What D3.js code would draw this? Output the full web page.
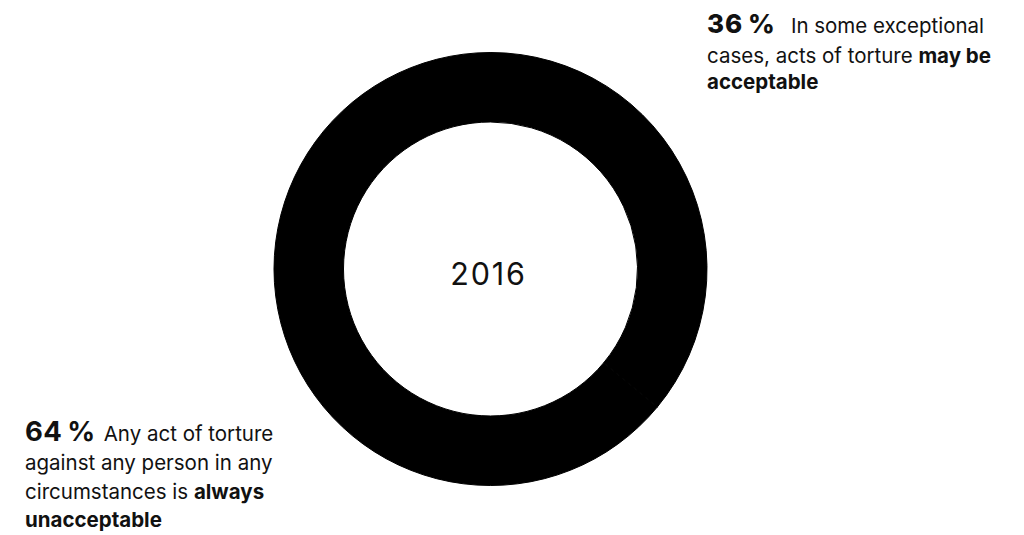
<!DOCTYPE html>
<html>
<head>
<meta charset="utf-8">
<script src="https://cdn.jsdelivr.net/npm/d3@7"></script>
<style>
  html, body { margin: 0; padding: 0; background: #fff; }
  svg { display: block; font-family: Inter, "Noto Sans", sans-serif; }
</style>
</head>
<body>
<svg id="chart" width="1024" height="535"></svg>
<script>
// Survey answers, 2016
const categories = ["may be acceptable", "always unacceptable"];
const values = [36, 64];
const year = "2016";
// Label text per category: lines of plain / bold segments
const labelLines = [
  [[{t: "In some exceptional", b: false}],
   [{t: "cases, acts of torture ", b: false}, {t: "may be", b: true}],
   [{t: "acceptable", b: true}]],
  [[{t: "Any act of torture", b: false}],
   [{t: "against any person in any", b: false}],
   [{t: "circumstances is ", b: false}, {t: "always", b: true}],
   [{t: "unacceptable", b: true}]]
];

const svg = d3.select("#chart");
const cx = 490.5, cy = 269, outerR = 216.5, innerR = 147;

const pie = d3.pie().sort(null).value(d => d);
const arc = d3.arc().innerRadius(innerR).outerRadius(outerR);

const g = svg.append("g").attr("transform", `translate(${cx},${cy})`);
g.selectAll("path")
  .data(pie(values))
  .join("path")
  .attr("d", arc)
  .attr("fill", "#000")
  .attr("stroke", "#000")
  .attr("stroke-width", 1)
  .attr("stroke-linejoin", "round");

g.append("text")
  .attr("text-anchor", "middle")
  .attr("x", -2)
  .attr("y", 15.5)
  .attr("font-size", 30.5)
  .attr("letter-spacing", 1.8)
  .attr("fill", "#111")
  .text(year);

// Annotation blocks
const blocks = [
  {x: 707, y: 33, value: values[0], weight: 800, size: 26, ls: 1, gap: 15,
   first: 30, lineH: 26, lines: labelLines[0]},
  {x: 25, y: 441, value: values[1], weight: 700, size: 27.5, ls: 0.5, gap: 8,
   first: 29.3, lineH: 28.3, lines: labelLines[1]}
];

blocks.forEach(bk => {
  const t = svg.append("text").attr("fill", "#111").attr("font-size", 20.5);
  t.append("tspan")
    .attr("x", bk.x).attr("y", bk.y)
    .attr("font-size", bk.size).attr("font-weight", bk.weight)
    .attr("letter-spacing", bk.ls)
    .text(bk.value + "\u2009%");
  bk.lines.forEach((line, i) => {
    line.forEach((seg, j) => {
      const s = t.append("tspan")
        .attr("font-weight", seg.b ? 700 : 400)
        .attr("letter-spacing", 0)
        .text(seg.t);
      if (j === 0) {
        if (i === 0) s.attr("dx", bk.gap);
        else s.attr("x", bk.x).attr("y", bk.y + bk.first + (i - 1) * bk.lineH);
      }
    });
  });
});
</script>
</body>
</html>
